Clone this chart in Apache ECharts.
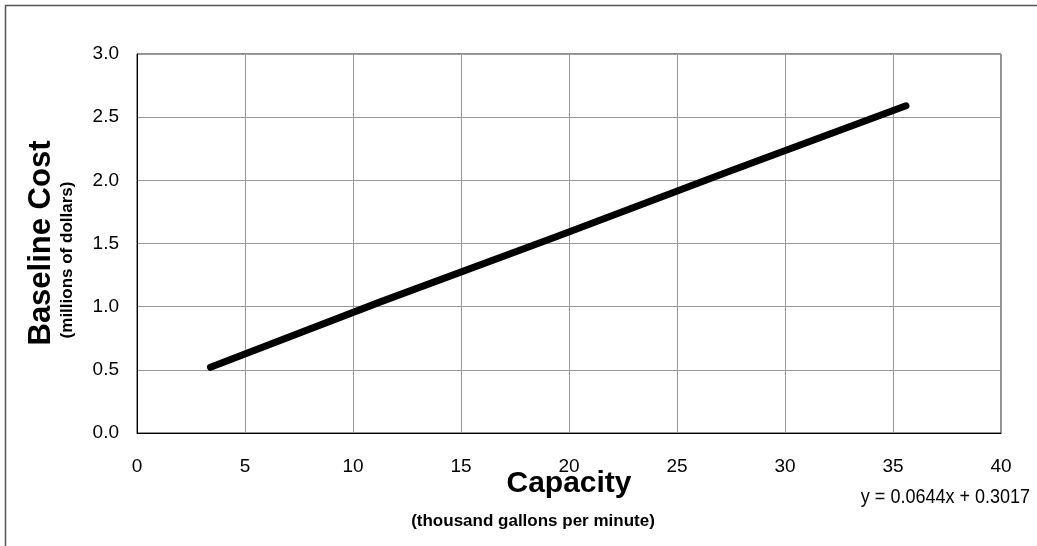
<!DOCTYPE html>
<html>
<head>
<meta charset="utf-8">
<script src="https://cdn.jsdelivr.net/npm/echarts@6/dist/echarts.min.js"></script>
<style>
  html, body { margin: 0; padding: 0; background: #fff; }
  #chart { width: 1037px; height: 546px; }
</style>
</head>
<body>
<div id="chart"></div>
<script>
// capacity (thousand gpm) vs baseline cost (millions of dollars)
var capacity = [3.4, 11.3, 19.5, 27.4, 35.6];
var cost = [0.52, 1.04, 1.56, 2.07, 2.59];
var xTicks = [0, 5, 10, 15, 20, 25, 30, 35, 40];
var yTicks = [0.0, 0.5, 1.0, 1.5, 2.0, 2.5, 3.0];
var equation = 'y = 0.0644x + 0.3017';

var font = 'Liberation Sans, Arial, sans-serif';

var chart = echarts.init(document.getElementById('chart'));

var points = [];
for (var i = 0; i < capacity.length; i++) {
    points.push([capacity[i], cost[i]]);
}

var option = {
    animation: false,
    backgroundColor: '#fff',
    grid: {
        left: 137,
        right: 36,
        top: 54,
        bottom: 113,
        show: true,
        borderColor: '#222',
        borderWidth: 1
    },
    xAxis: {
        type: 'value',
        min: xTicks[0],
        max: xTicks[xTicks.length - 1],
        interval: 5,
        axisLine: { show: true, lineStyle: { color: '#000', width: 1 } },
        axisTick: { show: false },
        splitLine: { show: true, lineStyle: { color: '#999', width: 1 } },
        axisLabel: { color: '#000', fontSize: 19, fontFamily: font, margin: 24 }
    },
    yAxis: {
        type: 'value',
        min: yTicks[0],
        max: yTicks[yTicks.length - 1],
        interval: 0.5,
        axisLine: { show: true, lineStyle: { color: '#000', width: 1 } },
        axisTick: { show: false },
        splitLine: { show: true, lineStyle: { color: '#999', width: 1 } },
        axisLabel: {
            color: '#000', fontSize: 19, fontFamily: font, margin: 18,
            formatter: function (v) { return v.toFixed(1); }
        }
    },
    graphic: [
        {
            type: 'rect',
            shape: { x: 5.5, y: 5.5, width: 1040, height: 560 },
            style: { fill: 'none', stroke: '#555', lineWidth: 1.5 },
            silent: true
        },
        {
            type: 'text',
            x: 41, y: 243, rotation: Math.PI / 2,
            style: {
                text: 'Baseline Cost', fill: '#000',
                font: 'bold 31px ' + font,
                align: 'center', verticalAlign: 'middle'
            }
        },
        {
            type: 'text',
            x: 67, y: 260, rotation: Math.PI / 2,
            style: {
                text: '(millions of dollars)', fill: '#000',
                font: 'bold 17px ' + font,
                align: 'center', verticalAlign: 'middle'
            }
        },
        {
            type: 'text',
            x: 569, y: 484,
            style: {
                text: 'Capacity', fill: '#000',
                font: 'bold 30px ' + font,
                align: 'center', verticalAlign: 'middle'
            }
        },
        {
            type: 'text',
            x: 533, y: 521,
            style: {
                text: '(thousand gallons per minute)', fill: '#000',
                font: 'bold 17px ' + font,
                align: 'center', verticalAlign: 'middle'
            }
        },
        {
            type: 'text',
            x: 1030, y: 497, scaleX: 0.9,
            style: {
                text: equation, fill: '#000',
                font: '20px ' + font,
                align: 'right', verticalAlign: 'middle'
            }
        }
    ],
    series: [
        {
            type: 'line',
            data: points,
            showSymbol: false,
            smooth: false,
            lineStyle: { color: '#000', width: 7, cap: 'round', join: 'round' }
        }
    ]
};

chart.setOption(option);
</script>
</body>
</html>
